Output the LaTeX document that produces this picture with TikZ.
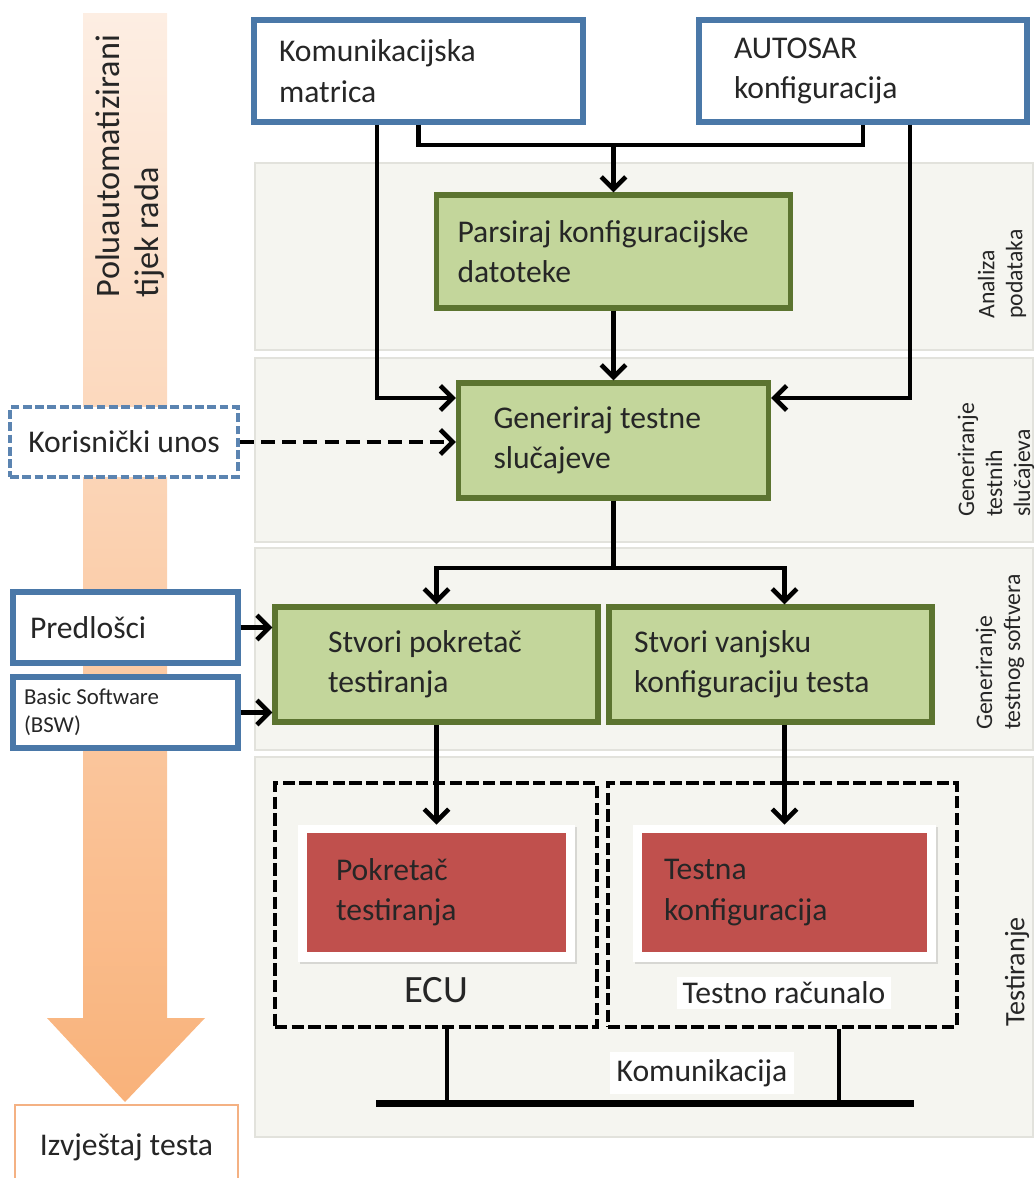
\documentclass[tikz,border=0pt]{standalone}
\usepackage{fontspec}
\setmainfont{Carlito}
\usetikzlibrary{arrows.meta,shadows}
\definecolor{boxblue}{HTML}{4A78A8}
\definecolor{dashblue}{HTML}{5B84B1}
\definecolor{taskfill}{HTML}{C3D69B}
\definecolor{taskline}{HTML}{5C7430}
\definecolor{datared}{HTML}{C0504D}
\definecolor{bandfill}{HTML}{F5F5F0}
\definecolor{bandline}{HTML}{E2E2DC}
\definecolor{flowtop}{HTML}{FDEEE3}
\definecolor{flowbot}{HTML}{F9B27A}
\definecolor{reportline}{HTML}{F4B183}
\begin{document}
\begin{tikzpicture}[x=0.02cm,y=-0.02cm,
	txt/.style={font=\fontsize{18}{23}\selectfont,text=black!85},
	inbox/.style={txt,draw=boxblue,line width=3pt,fill=white,align=flush left,inner ysep=0pt},
	task/.style={txt,draw=taskline,line width=3pt,fill=taskfill,align=flush left,inner ysep=0pt},
	datum/.style={txt,fill=datared,align=flush left,inner ysep=0pt},
	holder/.style={draw,line width=2.5pt,dash pattern=on 7pt off 2.5pt,inner sep=0pt},
	plate/.style={fill=white,inner sep=0pt,drop shadow={shadow xshift=1.2pt,shadow yshift=-1.2pt,opacity=0.25}},
	phase/.style={font=\fontsize{13.5}{16}\selectfont,text=black!85,rotate=90,align=flush left},
	band/.style={fill=bandfill,draw=bandline,line width=1pt},
	wire/.style={line width=2.6pt},
	arr/.style={wire,-{Straight Barb[length=7pt,width=14pt]}},
	darr/.style={arr,dash pattern=on 8pt off 4pt}]
	\useasboundingbox (0,0) rectangle (1035,1178);
	\draw[band] (255,163) rectangle (1033,350);
	\draw[band] (255,358) rectangle (1033,542);
	\draw[band] (255,548) rectangle (1033,750);
	\draw[band] (255,757) rectangle (1033,1137);
	\node[phase] (lanaliza) at (1002,274) {Analiza\\podataka};
	\node[phase] (lslucaj) at (996,460) {Generiranje\\testnih\\slučajeva};
	\node[phase] (lsoft) at (1000,652) {Generiranje\\testnog softvera};
	\node[phase,font=\fontsize{16}{19}\selectfont] (ltest) at (1017,972) {Testiranje};
	\shade[top color=flowtop,bottom color=flowbot] (83,13) -- (167,13) -- (167,1018) -- (205,1018) -- (125,1102) -- (47,1018) -- (83,1018) -- cycle;
	\node[txt,rotate=90,align=flush left,font=\fontsize{19.5}{22}\selectfont] (flowtext) at (130,166) {Poluautomatizirani\\tijek rada};
	\node[txt,draw=reportline,line width=1.5pt,fill=white,minimum width=4.46cm,minimum height=1.7cm] (report) at (126.5,1147.5) {Izvještaj testa};
	\node[inbox,minimum height=2.04cm,text width=5.58cm,inner xsep=0.5cm] (matrica) at (418.5,71) {Komunikacijska\\matrica};
	\node[inbox,minimum height=2.04cm,text width=5.16cm,inner xsep=0.7cm] (autosar) at (863,71) {AUTOSAR\\konfiguracija};
	\node[task,minimum height=2.26cm,text width=6.24cm,inner xsep=0.42cm] (parse) at (613.5,251.5) {Parsiraj konfiguracijske\\datoteke};
	\node[task,minimum height=2.3cm,text width=4.8cm,inner xsep=0.7cm] (gen) at (613.5,440.5) {Generiraj testne\\slučajeve};
	\node[txt,draw=dashblue,line width=2.5pt,dash pattern=on 5pt off 2pt,fill=white,minimum width=4.56cm,minimum height=1.4cm] (user) at (124,442) {Korisnički unos};
	\node[task,minimum height=2.3cm,text width=4.34cm,inner xsep=1.06cm] (driver) at (436.5,664.5) {Stvori pokretač\\testiranja};
	\node[task,minimum height=2.3cm,text width=5.46cm,inner xsep=0.5cm] (extcfg) at (770.5,664.5) {Stvori vanjsku\\konfiguraciju testa};
	\node[inbox,minimum height=1.42cm,text width=3.82cm,inner xsep=0.34cm] (templ) at (125.5,627.5) {Predlošci};
	\node[inbox,minimum height=1.42cm,text width=4.06cm,inner xsep=0.22cm,font=\fontsize{13}{16}\selectfont] (bsw) at (125.5,712.5) {Basic Software\\(BSW)};
	\node[holder,minimum width=6.44cm,minimum height=4.88cm] (ecu) at (436,905) {};
	\node[holder,minimum width=6.98cm,minimum height=4.88cm] (pc) at (782.5,905) {};
	\node[plate,minimum width=5.54cm,minimum height=2.74cm] (ecuframe) at (436.5,893.5) {};
	\node[plate,minimum width=6.06cm,minimum height=2.74cm] (pcframe) at (784.5,893.5) {};
	\node[datum,minimum height=2.38cm,text width=4.02cm,inner xsep=0.58cm] (ecured) at (436.5,892.5) {Pokretač\\testiranja};
	\node[datum,minimum height=2.38cm,text width=4.82cm,inner xsep=0.44cm] (pcred) at (784.5,892.5) {Testna\\konfiguracija};
	\node[txt,font=\fontsize{22}{26}\selectfont] (ecutext) at (436,990) {ECU};
	\node[txt,fill=white,inner sep=3pt] (pctext) at (784,993) {Testno računalo};
	\node[txt,fill=white,inner sep=4pt] (comtext) at (702,1073) {Komunikacija};
	\coordinate (join) at (613.5,145);
	\coordinate (lturn) at (377,398);
	\coordinate (rturn) at (910,398);
	\coordinate (split) at (613.5,568);
	\coordinate (ecutap) at (447,1103);
	\coordinate (pctap) at (839,1103);
	\coordinate (busl) at (376,1103);
	\coordinate (busr) at (914,1103);
	\draw[wire] (matrica.south) |- (join) -| (autosar.south);
	\draw[arr] (join) -- (parse.north);
	\draw[arr] (matrica.south -| lturn) -- (lturn) -- (gen.west |- lturn);
	\draw[arr] (autosar.south -| rturn) -- (rturn) -- (gen.east |- rturn);
	\draw[arr] (parse.south) -- (gen.north);
	\draw[darr] (user.east) -- (gen.west |- user.east);
	\draw[wire] (gen.south) -- (split);
	\draw[arr] (split) -| (driver.north);
	\draw[arr] (split) -| (extcfg.north -| pcframe.north);
	\draw[arr] (templ.east) -- (driver.west |- templ.east);
	\draw[arr] (bsw.east) -- (driver.west |- bsw.east);
	\draw[arr] (driver.south) -- (ecuframe.north);
	\draw[arr] (extcfg.south -| pcframe.north) -- (pcframe.north);
	\draw[wire] (ecu.south -| ecutap) -- (ecutap);
	\draw[wire] (pc.south -| pctap) -- (pctap);
	\draw[line width=4pt] (busl) -- (busr);
\end{tikzpicture}
\end{document}
